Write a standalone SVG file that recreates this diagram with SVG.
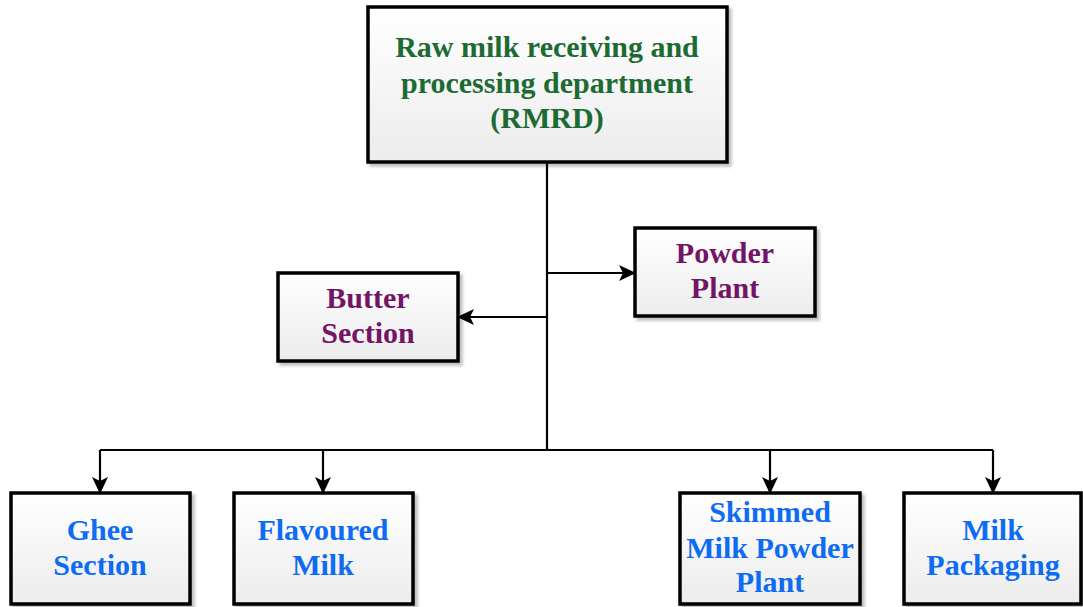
<svg xmlns="http://www.w3.org/2000/svg" width="1083" height="607" viewBox="0 0 1083 607">
<defs>
<linearGradient id="g" x1="0" y1="0" x2="0" y2="1">
<stop offset="0" stop-color="#ffffff"/>
<stop offset="1" stop-color="#ececec"/>
</linearGradient>
<filter id="sh" x="-10%" y="-10%" width="130%" height="130%">
<feDropShadow dx="3" dy="3" stdDeviation="1.5" flood-color="#000" flood-opacity="0.25"/>
</filter>
<marker id="ah" markerUnits="userSpaceOnUse" markerWidth="17" markerHeight="16" viewBox="0 0 17 16" refX="16" refY="8" orient="auto">
<path d="M0,0 L17,8 L0,16 L4,8 Z" fill="#000"/>
</marker>
</defs>
<style>
.box{fill:url(#g);stroke:#000;stroke-width:3.5;filter:url(#sh)}
.t{font-family:"Liberation Serif","Times New Roman",serif;font-weight:bold;font-size:30px;text-anchor:middle}
.gr{fill:#1b6b33}
.pu{fill:#731466}
.bl{fill:#0d6cf2}
.c{fill:none;stroke:#000;stroke-width:2.2}
</style>
<rect width="1083" height="607" fill="#fff"/>
<g id="connectors">
<path class="c" d="M547,162 V450"/>
<path class="c" d="M547,273 H635" marker-end="url(#ah)"/>
<path class="c" d="M547,317 H458" marker-end="url(#ah)"/>
<path class="c" d="M100,450 H993"/>
<path class="c" d="M100,450 V493" marker-end="url(#ah)"/>
<path class="c" d="M323,450 V493" marker-end="url(#ah)"/>
<path class="c" d="M770,450 V493" marker-end="url(#ah)"/>
<path class="c" d="M993,450 V493" marker-end="url(#ah)"/>
</g>
<g id="rmrd">
<rect class="box" x="368" y="7" width="359" height="155"/>
<text class="t gr" x="547" y="57">Raw milk receiving and</text>
<text class="t gr" x="547" y="93">processing department</text>
<text class="t gr" x="547" y="128">(RMRD)</text>
</g>
<g id="powder">
<rect class="box" x="635" y="228" width="180" height="88"/>
<text class="t pu" x="725" y="263">Powder</text>
<text class="t pu" x="725" y="298">Plant</text>
</g>
<g id="butter">
<rect class="box" x="278" y="273" width="180" height="88"/>
<text class="t pu" x="368" y="308">Butter</text>
<text class="t pu" x="368" y="343">Section</text>
</g>
<g id="ghee">
<rect class="box" x="11" y="493" width="179" height="111"/>
<text class="t bl" x="100" y="540">Ghee</text>
<text class="t bl" x="100" y="575">Section</text>
</g>
<g id="flavoured">
<rect class="box" x="234" y="493" width="179" height="111"/>
<text class="t bl" x="323" y="540">Flavoured</text>
<text class="t bl" x="323" y="575">Milk</text>
</g>
<g id="skimmed">
<rect class="box" x="680" y="493" width="180" height="111"/>
<text class="t bl" x="770" y="522">Skimmed</text>
<text class="t bl" x="770" y="558">Milk Powder</text>
<text class="t bl" x="770" y="592">Plant</text>
</g>
<g id="packaging">
<rect class="box" x="904" y="493" width="177" height="111"/>
<text class="t bl" x="993" y="540">Milk</text>
<text class="t bl" x="993" y="575">Packaging</text>
</g>
</svg>
